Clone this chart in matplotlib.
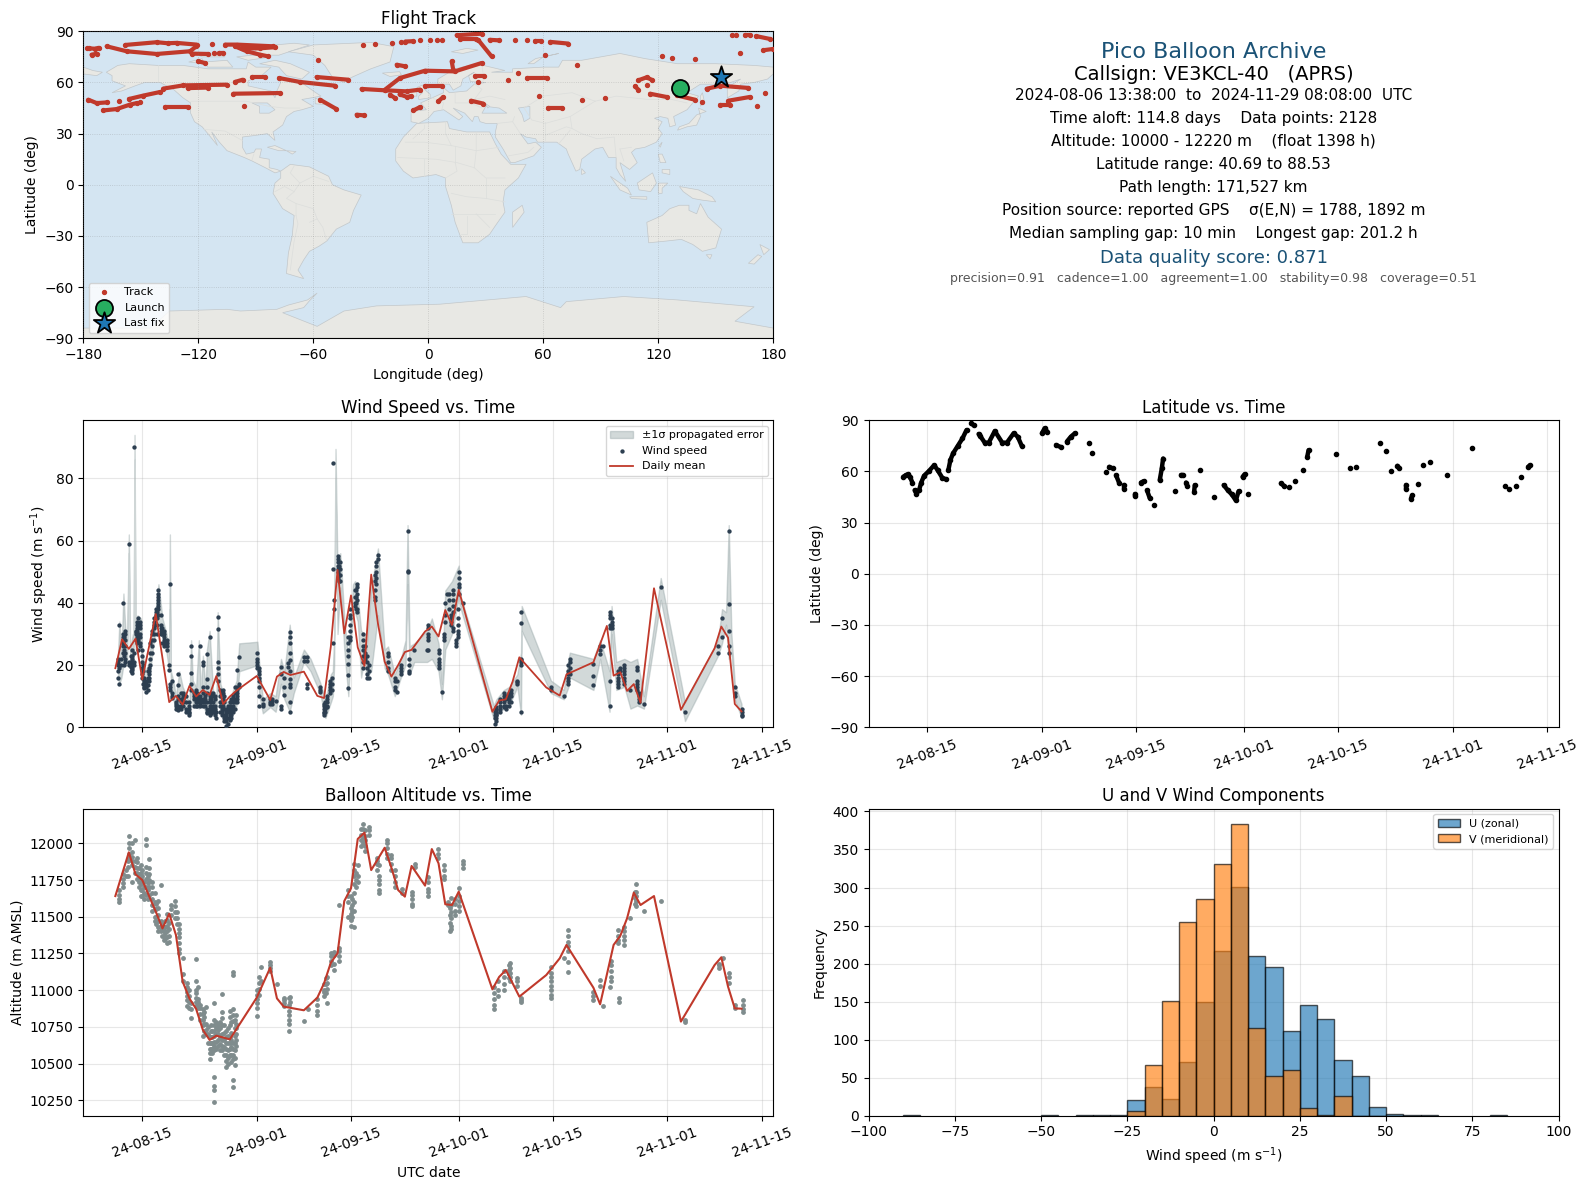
import datetime
import matplotlib
matplotlib.use('Agg')
import matplotlib.pyplot as plt
import matplotlib.dates as mdates
from matplotlib.patches import Polygon

# days are counted so that 15 = Aug 15, 32 = Sep 1, 62 = Oct 1, 93 = Nov 1
DAY_ZERO = mdates.date2num(datetime.datetime(2024, 7, 31))

date_ticks = [15, 32, 46, 62, 76, 93, 107]
date_labels = ['24-08-15', '24-09-01', '24-09-15', '24-10-01', '24-10-15', '24-11-01', '24-11-15']

mean_wind_days = [11, 12, 13, 14, 15, 17, 19, 20, 21, 22, 23, 24, 25, 26, 27, 28, 29, 32, 34, 35, 36, 37, 39, 41, 42,
                  43, 44, 45, 46, 47, 48, 49, 50, 51, 52, 53, 54, 55, 57, 58, 59, 60, 61, 62, 67, 68, 69, 70, 71, 75,
                  77, 78, 82, 84, 85, 86, 87, 88, 89, 91, 95, 100, 101, 102, 103, 104]
mean_wind = [19, 28.3, 25.2, 28.5, 15.4, 36.4, 8.1, 10.1, 7.3, 13.3, 9.9, 12, 10.4, 16.5, 7.5, 9.9, 11.8, 16.5, 8.8,
             16.3, 17.8, 16.8, 17.9, 10.1, 9.4, 25.9, 50.6, 30.2, 42.4, 25.7, 19.7, 49.1, 33.4, 21.1, 16.3, 20, 24.2,
             24.9, 30.8, 32.4, 29.2, 37.7, 32.9, 44.2, 5, 8.6, 9, 14.7, 22.5, 12.8, 10.2, 17, 20.9, 32.6, 16.6, 17.7,
             11.7, 13.9, 7.9, 44.7, 5.6, 25.4, 32.4, 28.8, 7.5, 5.1]

mean_alt_days = [11, 13, 14, 15, 17, 18, 19, 20, 21, 22, 23, 24, 25, 26, 28, 32, 34, 35, 36, 39, 41, 42, 43, 44, 45,
                 46, 47, 48, 49, 51, 52, 53, 54, 55, 57, 58, 59, 60, 61, 62, 67, 68, 69, 70, 71, 75, 77, 78, 82, 83,
                 85, 86, 87, 88, 89, 91, 95, 100, 101, 102, 103, 104]
mean_alt = [11641, 11939, 11789, 11750, 11535, 11421, 11521, 11376, 11058, 10944, 10872, 10729, 10661, 10690, 10665,
            10949, 11153, 10944, 10888, 10863, 10949, 11047, 11187, 11251, 11607, 11694, 12030, 12073, 11818, 11970,
            11834, 11682, 11637, 11846, 11712, 11961, 11864, 11585, 11580, 11671, 11006, 11090, 11137, 11047, 10956,
            11103, 11217, 11308, 11017, 10904, 11308, 11371, 11489, 11664, 11580, 11641, 10786, 11171, 11224, 11024,
            10876, 10874]

# (day, speeds read at that day)
wind_columns = [
    (11.45, [15.7, 18, 20, 21, 22]), (11.6, [33, 14, 19]), (11.9, [20, 22]), (12.2, [24, 26, 28, 29, 30, 27, 40]),
    (12.35, [20, 23, 25, 29]), (12.5, [21, 22, 24, 26, 28, 30, 31]), (13.0, [59, 21, 20]), (13.3, [18, 19.5, 21, 23]),
    (13.5, [17.5, 18.5, 19, 20, 21, 22, 23, 25]), (13.8, [90.2, 24, 21, 20]), (14.0, [28, 30, 30.5, 31]),
    (14.2, [27, 29, 31, 32, 33, 34]), (14.4, [25, 28, 30, 33, 35]), (14.6, [34, 33, 32, 30, 29, 27, 26]),
    (14.9, [21, 23, 25, 19, 17, 16]), (15.1, [14, 16, 18, 20]), (15.3, [12.5, 13, 14, 15, 16]),
    (15.6, [11.5, 13, 14, 15]), (15.8, [12, 13.5, 16, 18]), (16, [15, 16, 17, 18, 19]), (16.2, [20, 22, 24, 27]),
    (16.4, [24, 26, 28, 30, 31]), (16.7, [28, 30, 32, 33, 34, 35]), (17, [36, 37, 38]), (17.2, [30, 33, 35, 37]),
    (17.4, [36, 38, 39, 40, 41, 42, 43, 44]), (17.8, [32, 33, 30, 31, 36]), (18, [27, 30, 32]),
    (18.2, [26, 27, 28, 29, 30, 31]), (18.6, [25, 26, 27, 28]), (19, [20, 18.5]), (19.1, [46, 14, 13, 12]),
    (19.4, [11, 10, 9.5, 15]), (20, [7, 6, 7.5, 8]), (20.3, [5.5, 6, 7, 9, 10, 13.5, 17]), (20.7, [6, 7, 8, 9, 11]),
    (21, [7, 8, 9, 10, 11]), (21.5, [5, 6, 8, 10]), (22, [4, 4.5, 5, 6, 7, 8]), (22.3, [26, 23, 17.5, 14, 12]),
    (22.7, [7, 9, 10, 11]), (23, [7, 8, 9, 10, 11, 12]), (23.2, [7, 8, 9, 10, 11]), (23.5, [26, 7, 7.5, 8, 9, 10]),
    (24, [21, 20, 7, 8, 9, 11, 13]), (24.3, [7, 8, 9, 10]), (24.6, [23.5, 15.5, 13, 11, 8, 6, 5, 4.5]),
    (25, [29, 4, 5, 6, 7, 8, 9, 10]), (25.2, [4.5, 6, 8, 9, 11]), (25.5, [5, 6, 7, 8, 10, 11]),
    (25.8, [4, 5, 6, 7, 9, 10]), (26, [3, 5]), (26.2, [35.5, 31.5, 21, 19, 17, 15]), (26.5, [5, 7, 8, 10, 12]),
    (26.8, [4, 5, 6, 8, 11]), (27, [6, 7, 8, 9, 11, 12]), (27.2, [2, 3, 4, 6, 8, 10]), (27.5, [0.5, 2, 3, 4, 5, 6]),
    (27.8, [1, 3, 5, 6, 7]), (28, [2.5, 4, 5, 6, 7, 8]), (28.2, [3, 4, 5, 7, 9]), (28.5, [5, 6, 7, 8, 9, 10]),
    (28.8, [6, 8, 9, 11, 13]), (29, [8, 9, 10, 11, 12, 13, 18.5]),
    (29.4, [22.5, 13, 14]), (32, [19, 20, 21, 22, 24]), (32.3, [15, 16, 17, 18, 19, 13, 10, 7]), (33, [7, 7.5, 9]),
    (34, [8, 9, 7.5]), (34.2, [7.5, 8.5, 9]), (34.8, [8.5]), (35.6, [19.5, 17, 7, 6]), (36.1, [16, 13, 10.5]),
    (36.6, [20.7, 19.5]), (36.9, [30.5, 29, 27, 24, 21.5, 18, 15.5, 14, 13, 5, 8]), (39, [22.6, 21.4]),
    (39.5, [22.7, 21.4, 13.9, 12.6]), (41.4, [13, 12, 11.5]), (42, [7.5, 7, 6, 5, 4.5, 4]), (42.2, [5, 6, 7, 8]),
    (42.4, [9, 10, 8, 7, 6.5]), (42.9, [14, 15, 13, 12, 11]), (43.2, [16, 14, 12]), (43.4, [27, 51, 85]),
    (43.5, [38, 41]), (44.1, [55, 54, 53, 51, 48, 52, 50]), (44.2, [47, 49, 52]), (44.4, [47, 49, 51, 53]),
    (45.6, [29, 27, 25, 23, 20.5, 16.7, 12.6]), (45.8, [33, 31, 29, 28]), (45.9, [35, 36, 38]),
    (46.6, [44, 42, 40, 39]), (46.8, [38, 40, 42, 44]), (46.9, [46, 45, 43, 41, 38, 37]),
    (47.8, [30, 28, 26, 25, 23, 21, 19]),
    (48.1, [26, 24, 22]), (48.4, [23, 21, 19, 17, 16]), (48.6, [20, 18, 16]), (49.6, [49, 47, 44, 42, 41]),
    (49.7, [53, 52, 50, 48, 46]), (50, [55.5, 54]), (51.5, [24, 23, 21, 19, 18]), (52.5, [16, 15, 13, 12]),
    (52.8, [11.5, 15]), (53.4, [20, 19, 18, 17]), (54.4, [63, 50, 50.3]), (54.6, [22, 20, 18, 17.5]), (55.4, [25]),
    (57.3, [25]), (57.4, [33, 32, 30, 29, 28, 25]), (59, [25, 24, 22, 21, 20, 19]), (59.5, [11.5]),
    (59.8, [28, 29, 30]), (59.9, [34, 36, 40]), (60.2, [43]), (60.5, [38, 41, 43]), (60.8, [36, 35, 34, 33]),
    (61.1, [44, 43, 41, 39, 37, 32, 31]), (61.65, [26, 27, 28]), (61.85, [38, 35, 33, 31, 30, 29]),
    (62, [50, 48, 46, 45, 43]), (62.6, [40]), (67.4, [1, 3, 4, 5]), (67.5, [2, 3, 4, 5, 6]), (67.6, [4, 4.5, 5.5, 6.5]),
    (68.2, [5, 6, 7, 8, 9]), (68.7, [6.5, 7, 8, 9, 10, 11]), (69, [6, 7, 9, 10]), (69.5, [7, 8, 9, 10, 11]),
    (69.8, [8, 10, 11, 12]), (70.7, [14, 14.5, 15]),
    (71.3, [22, 21.5, 21, 20, 37, 33.5, 5]), (75.7, [12, 13]), (77.6, [10]), (78.2, [14, 15, 16, 17, 18, 20]),
    (78.5, [17, 19, 21, 22]), (82, [20.5, 16.5, 13.5]), (83, [23.5, 25, 26]), (83.5, [26]),
    (84.4, [6.8, 15, 37, 36, 35, 33, 32]), (84.7, [35, 34, 33, 32]), (85.6, [13, 14, 15, 16, 17, 18]),
    (85.9, [18, 19]), (86.6, [14, 15, 16, 17, 18, 19, 20]), (87.5, [12]), (88.5, [19.5, 18.5, 15, 14, 13, 12]),
    (88.7, [11, 10, 9, 8]), (89.5, [7.5]), (92, [45]), (95.6, [5]), (100.5, [26, 24]), (101.1, [35, 29]),
    (102.1, [63, 39.5, 31, 26, 24]), (103, [12.8, 11, 10]), (104, [6, 5, 4, 3.5]),
]

band_days = [11.4, 11.6, 11.9, 12.2, 12.5, 12.75, 13.0, 13.2, 13.6, 13.72, 13.85, 14.0, 14.3, 14.8, 15, 15.5, 16, 16.5,
             17, 17.4, 18, 18.6, 19.0, 19.1, 19.25, 19.6, 20, 20.5, 21, 22, 22.25, 22.5, 23, 23.4, 23.7, 24, 24.4,
             24.6, 25, 25.5, 26, 26.2, 26.6, 27.4, 28, 29, 29.4, 32.1, 32.4, 32.9, 34, 34.8, 35.6, 36.1, 36.9, 37.5,
             39, 40, 41.4, 42.2, 43, 43.3, 43.5, 43.7, 44, 44.4, 44.6, 45, 45.6, 46, 46.3, 46.6, 47, 47.5, 48, 48.3,
             49, 50, 51, 51.5, 52.5, 53.4, 54.1, 54.4, 54.7, 55.4, 57.3, 58, 59, 59.5, 60, 61, 62, 62.3, 67.2, 67.6,
             68.7, 69.5, 70.7, 71.25, 71.35, 75.7, 77.6, 78.3, 78.5, 82, 83, 84.4, 84.7, 85.4, 86.6, 87.5, 88.5,
             89.5, 92, 95.6, 100.5, 101.1, 101.7, 102.1, 102.5, 103, 104]
band_low = [16, 14, 16, 20, 20, 20, 56, 18, 18, 20, 86, 25, 27, 25, 14, 12, 14, 24, 32, 34, 29, 24, 18, 38, 12, 9, 6, 6,
            7, 3.5, 12, 7, 8, 6, 7, 7, 5, 6, 4, 4, 3, 15, 7, 1, 2, 7, 18, 20, 10, 4.5, 6.5, 5, 14, 9, 5, 11, 21, 18,
            11, 3, 8, 10, 20, 80, 30, 45, 40, 25, 10, 28, 36, 37, 34, 16, 22, 16, 18, 36, 19, 17, 10, 16, 20, 46, 17,
            21, 21, 22, 18, 9, 25, 30, 42, 38, 2.5, 4, 6, 7, 13, 4, 31, 11, 9, 13, 16, 12, 22, 5, 30, 12, 13, 6, 7,
            6, 41, 2, 23, 27, 33, 22, 24, 9, 3]
band_high = [24, 34, 24, 43, 31, 28, 62, 25, 30, 30, 94, 33, 36, 35, 24, 18, 21, 33, 38, 46, 35, 30, 24, 62, 18, 15, 10,
             18, 13, 8, 28, 15, 13, 28, 11, 23, 12, 25, 31, 12, 8, 37, 14, 8, 9, 15, 27, 27.5, 20, 9, 11, 10, 22, 18,
             33, 16, 25, 22, 14.5, 9, 17, 18, 30, 89.5, 50, 56, 50, 35, 22, 36, 46, 47, 42, 31, 30, 25, 45, 57.5, 25,
             26, 17, 22, 28, 65, 26, 27, 31, 35, 27, 14, 44, 47, 52, 42, 7, 9, 12, 13, 17, 24, 39, 15, 12, 22, 24, 22,
             28, 18, 39, 21, 22, 21, 22, 10, 48, 8, 28, 38, 37, 65, 30, 14, 7.5]

alt_columns = [
    (11.6, [11600, 11620, 11650, 11680]), (12.2, [11700, 11730, 11760, 11790]), (12.6, [11780, 11820]),
    (12.9, [11780, 11840, 11880]), (13.0, [11900, 11930, 11970, 12000, 12050]),
    (13.4, [11850, 11880, 11910, 11940, 12000, 11734]), (13.9, [12020, 11800, 11840, 11880]),
    (14.2, [11760, 11800, 11830, 11870, 11900]), (14.5, [11700, 11740, 11790, 11830]),
    (14.8, [11640, 11680, 11720, 11760, 11800, 11850]), (15, [11640, 11680, 11740, 11780, 11820]),
    (15.3, [11620, 11660, 11700, 11740]), (15.6, [12030, 11990, 11840, 11800, 11760, 11700, 11650]),
    (15.9, [11620, 11680, 11730, 11780]), (16, [11890, 11830, 11790, 11750, 11700, 11650]),
    (16.5, [11740, 11700, 11660, 11620, 11580, 11540]), (16.9, [11660, 11600, 11550, 11500, 11470]),
    (17.1, [11450, 11500, 11550, 11590]), (17.4, [11610, 11560, 11510, 11470, 11430, 11400]),
    (17.8, [11716, 11470, 11440, 11400]), (18, [11370, 11420, 11460]),
    (18.2, [11430, 11400, 11370, 11340]), (18.4, [11350, 11390, 11430, 11470]),
    (18.7, [11520, 11480, 11440, 11400, 11360, 11320]), (19, [11330, 11370, 11420, 11460]),
    (19.3, [11510, 11550, 11580]), (19.8, [11610, 11570, 11530, 11490]), (20.1, [11450, 11490, 11530]),
    (20.4, [11450, 11420, 11390, 11360, 11320, 11280, 11250]), (21, [11220, 11110, 11060]),
    (21.6, [11050, 11020, 10990, 10960, 10930, 10890]), (22, [10880, 10920, 10960, 11000]),
    (22.3, [10810, 10870, 10910]), (23, [10890, 10920, 10950, 10980, 11060, 11000, 11210]),
    (23.3, [10880, 10900, 10920, 10940, 11020]), (23.6, [10800, 10840, 10880, 10900]),
    (24, [10760, 10800, 10840, 10870, 10690]), (24.2, [10720, 10770, 10820, 10850]),
    (24.4, [10770, 10730, 10700, 10883]), (24.8, [10640, 10700, 10750]),
    (25, [10680, 10640, 10600, 10570, 10530]), (25.2, [10600, 10640, 10680, 10720, 10760]),
    (25.4, [10720, 10680, 10640, 10600, 10570]),
    (25.7, [10800, 10760, 10720, 10690, 10650, 10620, 10590, 10910, 10410, 10350, 10320, 10240]),
    (25.9, [10600, 10650, 10700, 10740, 10780]), (26.3, [10760, 10730, 10700, 10660, 10620]),
    (26.6, [10590, 10630, 10680, 10740, 10780]), (26.9, [10972, 10850, 10810, 10760, 10700, 10660, 10620, 10590]),
    (27.1, [10560, 10610, 10660, 10710, 10760]), (27.4, [10720, 10680, 10640, 10600, 10560, 10520, 10480]),
    (27.7, [10500, 10540, 10590, 10640, 10690, 10740]), (28, [10860, 10820, 10760, 10680, 10640, 10600, 10560]),
    (28.2, [10510, 10560, 10610, 10660, 10710, 10780]),
    (28.4, [10870, 10830, 10790, 10640, 10600, 10560, 10530, 10390, 10340, 11126, 11101]),
    (28.7, [10490, 10540, 10590, 10640, 10690, 10740, 10800]),
    (28.9, [10830, 10770, 10740, 10700, 10660, 10620]), (32.0, [10880, 10910, 10940, 10970, 11000, 10824]),
    (32.4, [10970, 11010, 11050, 11090]), (32.7, [11160, 11060]), (34, [11130, 11150, 11170, 11190]), (35, [11040]),
    (36, [10890, 10910, 10930, 10950]), (36.8, [10860, 10830, 10800, 10770, 10720, 10900, 10950]),
    (37, [10955, 10920]), (39, [10790]), (39.6, [10870]), (41, [10830, 10860, 10900, 10940]),
    (42, [10960, 11000, 11040, 10990]), (42.3, [10980, 11040, 11080]), (42.5, [10910, 11010, 11050, 11090]),
    (43, [11170, 11200, 11230, 11250]), (43.5, [11140, 11180, 11240, 11260]),
    (44.2, [11230, 11200, 11270, 11290, 11580]), (45.5, [11500, 11600, 11640, 11680]),
    (46, [11440, 11480, 11520, 11560, 11640]), (46.2, [11500, 11540, 11580, 11620]),
    (46.5, [11430, 11540, 11600, 11660, 11720, 11780, 11820, 11860]), (46.7, [11700, 11750, 11800]),
    (47, [11740, 11780, 11850]), (47.5, [11980, 12020, 12060, 12100]),
    (47.8, [12000, 12030, 12060, 12100, 12130]), (48.1, [11950, 11980, 12020, 12050, 12090]),
    (48.7, [12060, 12090, 12110]), (49.8, [11860, 11880, 11900, 11820]),
    (50.2, [11660, 11680, 11720, 11750, 11780, 11850]), (51.4, [11900, 11930, 11970, 12020, 12000]),
    (52, [11820, 11860, 11900, 11920]), (52.5, [11700, 11740, 11780, 11820]), (53.5, [11660, 11690]),
    (55, [11570, 11590, 11620, 11650, 11670]), (55.5, [11840, 11860]), (57.4, [11640, 11670, 11690, 11740, 11773]),
    (58.9, [11900, 11930, 11960]), (59.8, [11760, 11780, 11820, 11850]), (60.4, [11580, 11600]),
    (60.7, [11400, 11460, 11510, 11560]), (60.9, [11414, 11440, 11490, 11530, 11580, 11630]),
    (61.5, [11510, 11540, 11590, 11620]), (62, [11540, 11570, 11610, 11640, 11694]), (62.6, [11830, 11860, 11880]),
    (67.3, [10870, 10900, 10940, 10980, 11020]), (67.8, [10960, 11000, 11060]),
    (68.7, [11000, 11040, 11090, 11130]), (69.4, [11080, 11110, 11140, 11170]),
    (69.6, [11060, 11090, 11120, 11150, 11183]), (70.7, [11030, 11060, 11080]),
    (71.2, [10920, 10950, 10935]), (75.7, [10950, 10970, 11000, 11030, 11060, 11090, 11120, 11160]), (77.6, [11217]),
    (78.2, [11122, 11190, 11270, 11300, 11330, 11370, 11410]), (82, [10960, 10990, 10930]), (83, [11030, 11070]),
    (83.5, [10890]), (84.4, [11019]), (84.6, [11060, 11090, 11130, 11170, 11200]), (85.8, [10920, 10950]),
    (85.6, [11320, 11340, 11370, 11410]), (86.5, [11310, 11340, 11370, 11400, 11430]), (87.5, [11489]),
    (88.2, [11590, 11630, 11670]), (88.4, [11570, 11610, 11640, 11670, 11721]), (89.5, [11540]), (92, [11610]),
    (95.6, [10780, 10800]), (100.6, [11150, 11170, 11180]), (101.3, [11220]), (102.1, [11051, 11090, 11115]),
    (103, [10880, 10900]), (104.2, [10850, 10870, 10900, 10931]),
]

# latitude runs: (days, latitudes) of stretches without a gap
lat_runs = [
    ([11.42, 11.75, 12.15, 12.4, 12.75], [56.9, 57.8, 58.4, 56.9, 53.5]),
    ([13.1, 13.35, 13.75, 14.07, 14.5, 15.2, 16, 16.5, 17.2, 17.7], [49, 47, 49, 53.5, 57.5, 60.2, 63.7, 60.8, 56.3, 55.5]),
    ([18.1, 18.4, 18.8, 19.5, 20.2, 20.8], [60.8, 66.7, 70.6, 75, 79.4, 84.3]),
    ([21.5, 21.9], [88.2, 87]),
    ([22.6, 22.8, 23.5, 24.1, 25, 26.1, 26.8, 27.8, 28.4, 29], [82, 81, 76.9, 76.9, 83.7, 76.9, 76.9, 82.4, 80.4, 75]),
    ([32, 32.4, 32.8], [82.4, 85.3, 83.3]), ([34.1, 34.9], [75.5, 74.1]), ([35.7, 36.3, 36.9], [77.5, 80.4, 82.4]),
    ([39], [76.5]), ([39.5], [70.6]), ([41.5], [59.4]), ([42, 42.5], [62.7, 61.8]),
    ([43, 43.5], [57.8, 53]), ([44.2, 44.2], [50, 52]), ([45.8, 45.8], [45.7, 47]), ([46.7, 47.1], [53.5, 54.3]),
    ([47.6, 48], [49, 44.5]), ([48.6], [40.6]), ([49.5, 49.8, 50], [55, 61.8, 67.6]), ([51.7], [48.5]),
    ([52.6, 53], [57.8, 57.8]), ([53.4, 53.6], [53.5, 51.4]), ([54.6, 54.7], [48, 52]), ([55.5], [60.6]),
    ([57.6], [45]), ([59, 59.6, 60.2, 60.8, 61.2], [52, 49, 46.5, 43, 48.4]), ([61.8, 62.1], [56.9, 58.4]),
    ([62.6], [46.5]), ([67.5, 68], [53, 51.4]), ([68.7], [50.6]), ([69.6], [54.3]), ([70.8], [60.8]),
    ([71.4, 71.6], [68.6, 72.5]), ([75.7], [70.2]), ([77.8], [61.8]), ([78.6], [62.7]), ([82.2], [76.5]),
    ([83.1], [72.2]), ([83.9], [60]), ([84.8, 85.1], [63.3, 61.8]), ([86, 86], [52, 50]),
    ([86.8, 87], [44.1, 46]), ([87.8], [52.4]), ([88.6], [63.7]), ([89.7], [65.7]), ([92.1], [58.2]), ([95.8], [73.5]),
    ([100.7], [51.6]), ([101.4], [50]), ([102.4], [51.6]), ([103.2], [56.5]), ([104.2, 104.5], [62.7, 63.7]),
]

# U/V histogram, 5 m/s bins starting at these left edges
hist_edges = [-90, -50, -40, -35, -30, -25, -20, -15, -10, -5, 0, 5, 10, 15, 20, 25, 30, 35, 40, 45, 50, 55, 60, 80]
u_counts = [1, 1, 1, 1, 1, 20, 38, 22, 70, 150, 216, 301, 210, 195, 111, 146, 127, 73, 52, 12, 2, 1, 1, 1]
v_counts = [0, 0, 0, 0, 0, 6, 67, 151, 254, 285, 331, 384, 115, 52, 60, 10, 1, 26, 0, 0, 0, 0, 0, 0]

# ground track on the map, (lon, lat) runs
track_runs = [
    [(-177, 80), (-174, 79.8), (-172, 80.3)], [(-175.7, 76.3), (-173, 76.8)],
    [(-158, 82), (-141.7, 83.6), (-136, 83), (-131.3, 83.2), (-120.9, 82.2)],
    [(-167.8, 81.2), (-157.4, 78.3), (-141.7, 76.7), (-124.3, 78.3), (-121, 81.2)],
    [(-123.5, 76.9), (-114.8, 76.7)], [(-112, 77.3)], [(-109, 77.3), (-107, 77.3)],
    [(-106, 82.2), (-100, 82.2), (-80.9, 81.2)], [(-100.9, 81.2), (-94.8, 78.3), (-87.8, 76.3), (-83.5, 75.3)],
    [(-97, 80), (-88, 80), (-80, 80.7)], [(-113, 82.8)], [(-120, 72.4), (-116.5, 71.4)],
    [(-177.4, 49.9), (-173, 47.9), (-167.8, 48.3)], [(-161.2, 49.3)],
    [(-169.6, 43.6), (-162.6, 44.4), (-155.7, 47), (-152.2, 47.9)], [(-150.4, 48.5)],
    [(-156.2, 50.3), (-148.7, 52.3), (-140, 54.4)], [(-138.3, 56.4), (-127.8, 58.3), (-105.2, 58.7)],
    [(-125.5, 56.7), (-115, 57)], [(-137.4, 45.6), (-125.2, 45.6)], [(-100.9, 60.3), (-96.9, 61.6)],
    [(-92.2, 63.2), (-85.2, 63.2)], [(-101.7, 53.4), (-77.4, 53.8)], [(-96, 46.4)],
    [(-77.9, 62.6), (-67, 60.3), (-48.7, 58.1)], [(-58.3, 63.2), (-41.7, 61.6)], [(-57.4, 73.4)],
    [(-56.5, 49.9), (-48.2, 44.6)], [(-37.4, 41.1), (-33.6, 40.7)], [(-34, 82)], [(-28, 82.5)], [(-19, 83.2)],
    [(-14, 84)], [(-12, 84), (-8, 84.2)], [(-4.3, 85)], [(1, 85)], [(4.5, 85)], [(7, 85)],
    [(-34.8, 56.2), (-22.6, 55.4), (-11.3, 54.8), (-4.3, 55.8)],
    [(-22.6, 55.8), (-14.8, 62.6), (-1.7, 66.9), (13.9, 66.5), (27.8, 71.4)], [(-16.5, 70.4), (-12.2, 69.5)],
    [(-20, 52.8), (-17.4, 50.9)], [(-15, 53), (-11, 51.5), (-9, 52)], [(-7.8, 43.6), (-4.3, 45.6)],
    [(5.2, 48.9), (7.8, 51.5)], [(-1.7, 57.7), (7, 57.7)], [(14.8, 87.7), (27.8, 88.6)], [(16.5, 85.5), (25, 85.5)],
    [(26, 85), (33, 75.3)], [(32, 85), (37, 84.7)], [(45, 85)], [(51.7, 85)], [(55.6, 84.2), (59, 84.2)],
    [(63.5, 83.8), (73, 82.8)], [(12.2, 72.4), (13, 67.5)], [(22.3, 49.3), (28.7, 47.6)], [(24.3, 63.6), (29, 63.6)],
    [(26, 60.3)], [(46.6, 65.6)], [(41.7, 61.4)], [(61, 76.3)], [(77.4, 70.5)], [(51.7, 62.6), (62, 62.6)],
    [(57.9, 51.9)], [(62.6, 45), (69.6, 45)], [(80, 49.7)], [(92.3, 50.9)],
    [(109.6, 61.3), (113.9, 63), (116.5, 61.6)], [(114.3, 58.7)], [(107.8, 57.7), (109.6, 55.8)],
    [(115.7, 53.4), (124.3, 51.5)], [(129.6, 52.4), (139.1, 49.9)], [(121.7, 75.3)], [(127, 74.4)], [(139.3, 73.8)],
    [(142.6, 48.5)], [(145.2, 56.3), (152.2, 58.1), (167, 56.8)], [(156.5, 49.3), (167.8, 51.5)],
    [(152.2, 46.6), (157.4, 46.6)], [(171.7, 46.4)], [(175.7, 53.8)],
    [(158.3, 88)], [(160.5, 87.7)], [(165, 88), (168, 88)], [(171, 87.2), (178.3, 85.5)], [(162.6, 77.3)],
    [(174.8, 78.9), (179.6, 79.6)], [(-178, 80)],
]
launch_lon, launch_lat = 131.5, 56.8
last_lon, last_lat = 152.7, 63.2

# rough coastlines, (lon, lat)
land_polys = [
    [(-168, 66), (-162, 70), (-156, 71), (-141, 70), (-128, 70), (-115, 68), (-108, 68), (-95, 68), (-94, 72), (-90, 69),
     (-82, 69), (-87, 64), (-94, 61), (-94, 58), (-88, 56.5), (-82, 55), (-80, 51), (-79, 55), (-77, 60), (-78, 62),
     (-70, 61), (-65, 59), (-60, 55), (-56, 52), (-66, 50), (-60, 46), (-66, 44), (-70, 43), (-74, 40), (-76, 35),
     (-81, 31), (-80, 26), (-82, 28), (-84, 30), (-90, 29), (-97, 28), (-97, 22), (-95, 18), (-91, 19), (-90, 21),
     (-87, 21), (-88, 16), (-83, 15), (-83, 10), (-79, 9), (-77, 8), (-80, 7), (-85, 10), (-92, 14), (-96, 16),
     (-105, 20), (-109, 25), (-113, 31), (-110, 23), (-115, 30), (-118, 34), (-122, 37), (-124, 42), (-124, 48),
     (-128, 51), (-133, 56), (-140, 60), (-148, 60), (-153, 58), (-160, 55), (-165, 54), (-158, 58), (-165, 61),
     (-165, 64)],
    [(-80, 73), (-72, 71), (-62, 66), (-66, 62), (-74, 64), (-78, 69), (-88, 71)],
    [(-117, 72), (-105, 73), (-102, 69), (-115, 69)],
    [(-90, 76), (-78, 76), (-62, 82), (-70, 83), (-90, 81)],
    [(-125, 72), (-118, 74), (-117, 71)],
    [(-100, 75), (-92, 76), (-82, 75), (-94, 73)],
    [(-120, 76), (-108, 76), (-106, 75), (-118, 75)],
    [(-59, 51), (-53, 47), (-59, 47.5)],
    [(-73, 78), (-60, 82), (-30, 83.5), (-18, 81), (-20, 72), (-30, 68), (-42, 62), (-44, 60), (-50, 63), (-54, 70), (-60, 76)],
    [(-24, 65.5), (-15, 66.3), (-14, 64.5), (-20, 63.5)],
    [(-77, 8), (-72, 12), (-62, 10.5), (-52, 5), (-50, 0), (-44, -3), (-35, -6), (-39, -15), (-41, -22), (-48, -26),
     (-53, -33), (-57, -36), (-62, -39), (-65, -44), (-68, -50), (-65, -55), (-74, -52), (-73, -40), (-71, -30),
     (-70, -18), (-76, -14), (-81, -5), (-80, 1), (-77, 4)],
    [(-6, 36), (10, 37), (11, 33), (20, 31), (32, 31), (35, 24), (38, 18), (43, 12), (51, 12), (47, 4), (40, -3), (39, -10),
     (40, -16), (35, -24), (32, -29), (26, -34), (18, -34), (14, -22), (12, -12), (9, -1), (9, 4), (4, 6), (-8, 4),
     (-13, 8), (-17, 14), (-17, 21), (-13, 28)],
    [(-9, 37), (-9, 43), (-1, 44), (-4, 48), (2, 51), (8, 54), (8, 57), (11, 54), (20, 55), (24, 59), (30, 60), (22, 60.5),
     (21, 64), (24, 66), (18, 62), (17, 58), (13, 55.5), (11, 59), (5, 59), (5, 62), (14, 68), (25, 71), (40, 67), (33, 66),
     (44, 66), (44, 68), (60, 69), (68, 69), (70, 73), (80, 73), (100, 77), (113, 74), (130, 71), (150, 71), (170, 70),
     (180, 69), (180, 65), (177, 62), (170, 60), (163, 59), (162, 55), (156, 51), (156, 57), (163, 62), (155, 59), (142, 59),
     (135, 54), (141, 52), (135, 44), (128, 40), (129, 35), (126, 34), (125, 39), (121, 40), (118, 39), (122, 37), (120, 33),
     (122, 30), (119, 25), (113, 22), (108, 21), (106, 19), (109, 13), (105, 9), (100, 13), (103, 2), (100, 6), (98, 10),
     (98, 16), (94, 16), (91, 22), (87, 21), (80, 15), (79, 9), (77, 8), (73, 18), (72, 21), (67, 25), (57, 25), (56, 27),
     (51, 28), (48, 30), (52, 24), (56, 25), (59, 22), (55, 17), (45, 13), (43, 13), (39, 21), (35, 28), (35, 31), (36, 36),
     (30, 36), (27, 37), (26, 40), (24, 40), (23, 37), (19, 42), (13, 45), (18, 40), (16, 38), (8, 44), (3, 43), (0, 39),
     (-5, 36)],
    [(-180, 69), (-175, 67), (-170, 66), (-173, 64), (-180, 65)],
    [(-5, 50), (1, 51), (1, 53), (-2, 56), (-3, 58.5), (-6, 57), (-3, 54), (-5, 52)],
    [(-10, 52), (-6, 52), (-6, 55), (-10, 54)],
    [(130, 32), (135, 34), (140, 35), (142, 40), (141, 45), (145, 43), (140, 41), (136, 36), (131, 34)],
    [(142, 46), (144, 49), (143, 54), (142, 52)],
    [(44, -25), (50, -16), (49, -12), (44, -16)],
    [(95, 5), (104, -2), (106, -6), (100, -3)],
    [(105, -7), (114, -7), (114, -8.5), (106, -8)],
    [(109, 1), (117, 7), (119, 1), (116, -4), (110, -3)],
    [(120, 1), (125, 1), (122, -2), (122, -5), (120, -5)],
    [(131, -1), (141, -3), (148, -7), (150, -10), (143, -9), (138, -8), (133, -4)],
    [(120, 18), (122, 18), (124, 13), (121, 13)],
    [(122, 9), (126, 9), (126, 6), (122, 7)],
    [(114, -22), (122, -18), (126, -14), (131, -12), (136, -12), (136, -15), (140, -17), (142, -11), (146, -19), (153, -26),
     (150, -37), (143, -39), (138, -35), (132, -32), (124, -33), (115, -34)],
    [(145, -41), (148, -41), (147, -43.5)],
    [(173, -35), (178, -38), (175, -41)],
    [(167, -46), (172, -41), (174, -42), (170, -46.5)],
    [(52, 71), (56, 74), (68, 77), (60, 75), (55, 71)],
    [(12, 78), (20, 80), (26, 79), (18, 77)],
    [(-84, 22), (-80, 23), (-74, 20), (-78, 20)],
    [(-74, 20), (-69, 19.5), (-71, 18)],
    [(80, 9.5), (82, 7), (80, 6)],
    [(120.5, 23), (122, 25), (121, 22)],
    [(-180, -90), (-180, -84), (-145, -84), (-135, -74), (-105, -73), (-98, -74), (-79, -73), (-73, -70.5), (-63, -67.5),
     (-58, -63.5), (-62, -68), (-65, -72), (-76, -75), (-58, -83), (-44, -74), (-27, -71), (6, -70), (51, -65.5), (69, -72),
     (72, -68.5), (102, -65.5), (130, -67.5), (170, -71.5), (160, -80), (180, -84), (180, -90)],
]
water_polys = [
    [(28, 42), (30, 46), (37, 45), (41, 42), (35, 42)],
    [(47, 45), (53, 46), (53, 39), (50, 37), (49, 41)],
    [(30, 47.5), (32, 46), (31, 45)],
    [(-92, 48), (-84, 48), (-80, 44), (-83, 42), (-88, 42), (-88, 46)],
]
border_lines = [
    [(-141, 70), (-141, 60)], [(-124, 49), (-95, 49), (-83, 46), (-75, 45), (-67, 45)],
    [(-117, 32.5), (-106, 31.5), (-97, 26)], [(-92, 14.5), (-91, 18)],
    [(-70, 11), (-72, 7), (-67, 1), (-70, -4), (-74, -8), (-69, -11), (-69, -18)], [(-60, 8), (-60, 5), (-52, 2)],
    [(-67, 1), (-60, 5)], [(-69, -11), (-60, -14), (-58, -20), (-55, -25), (-53, -33)],
    [(-69, -18), (-68, -23), (-70, -33), (-72, -50)], [(-80, -4), (-75, -1), (-70, -4)], [(-62, -22), (-58, -20)],
    [(-12, 25), (-2, 25), (12, 23), (25, 20), (37, 22)], [(25, 31), (25, 20), (24, 10), (30, 4), (40, 4)],
    [(-8, 27), (-2, 33), (-2, 35)], [(9, 37), (9, 30), (12, 23)], [(14, 13), (14, 23)], [(-16, 16), (4, 15), (15, 13), (24, 10)],
    [(9, 4), (15, 8), (14, 13)], [(12, -5), (20, -7), (30, -8), (40, -10)], [(12, -17), (25, -17), (35, -17)],
    [(20, -18), (20, -29), (17, -29)], [(30, 4), (30, -8)], [(25, -17), (32, -25)], [(-2, 5), (-2, 15)],
    [(2, 51), (8, 48), (7, 44)], [(14, 54), (14, 48), (22, 48), (28, 45)], [(24, 59), (28, 56), (24, 50), (22, 48)],
    [(28, 70), (29, 62), (28, 60)], [(40, 50), (32, 52), (24, 50)], [(36, 36), (44, 37), (48, 30)], [(44, 37), (45, 40)],
    [(61, 37), (61, 26)], [(61, 36), (54, 38), (50, 45), (60, 52), (75, 54), (87, 49)], [(87, 49), (98, 52), (115, 50), (127, 50), (135, 48)],
    [(87, 49), (74, 40), (61, 36)], [(74, 40), (75, 33), (80, 30), (88, 27), (97, 28), (98, 16)], [(61, 29), (72, 34), (75, 33)],
    [(68, 24), (74, 32)], [(100, 21), (106, 22)], [(42, 17), (52, 19), (55, 22)], [(100, 21), (102, 14)],
]

NAVY = '#1a5276'
RED = '#c0392b'
MINUS_TICKS = ['−90', '−60', '−30', '0', '30', '60', '90']


def day_to_date(days):
    return [DAY_ZERO + d for d in days]


def flatten(columns):
    xs, ys = [], []
    for day, values in columns:
        for v in values:
            xs.append(DAY_ZERO + day)
            ys.append(v)
    return xs, ys


def place(left, top, right, bottom):
    # pixel box to figure fractions
    return fig.add_axes([left / 1587, 1 - bottom / 1189, (right - left) / 1587, (bottom - top) / 1189])


def time_axis(ax):
    ax.set_xlim(DAY_ZERO + 6.24, DAY_ZERO + 108.72)
    ax.set_xticks(day_to_date(date_ticks))
    ax.set_xticklabels(date_labels, rotation=20)
    ax.grid(alpha=0.3)


fig = plt.figure(figsize=(15.87, 11.89), dpi=100)

# flight track
ax = place(83.3, 31.3, 773.3, 338.3)
ax.set_facecolor('#d4e5f2')
for poly in land_polys:
    ax.add_patch(Polygon(poly, closed=True, facecolor='#e8e8e4', edgecolor='#c2c7ca', linewidth=0.5, zorder=1))
for poly in water_polys:
    ax.add_patch(Polygon(poly, closed=True, facecolor='#d4e5f2', edgecolor='#c2c7ca', linewidth=0.5, zorder=1.1))
for line in border_lines:
    ax.plot([p[0] for p in line], [p[1] for p in line], color='#dcdedc', lw=0.5, zorder=1.2)
ax.grid(color='gray', linestyle=':', linewidth=0.6, alpha=0.35, zorder=1.5)
ax.set_axisbelow(False)
track_lon, track_lat = [], []
for run in track_runs:
    ax.plot([p[0] for p in run], [p[1] for p in run], color=RED, lw=3, solid_capstyle='round', zorder=2)
    track_lon += [p[0] for p in run]
    track_lat += [p[1] for p in run]
ax.scatter(track_lon, track_lat, s=8, color=RED, zorder=3, label='Track')
ax.scatter([launch_lon], [launch_lat], s=150, color='#27ae60', edgecolor='black', linewidth=1.3, zorder=4, label='Launch')
ax.scatter([last_lon], [last_lat], s=260, marker='*', color='#1f77b4', edgecolor='black', linewidth=1.3, zorder=5, label='Last fix')
ax.set_xlim(-180, 180)
ax.set_ylim(-90, 90)
ax.set_xticks(range(-180, 181, 60))
ax.set_yticks(range(-90, 91, 30))
ax.set_xticklabels(['−180', '−120', '−60', '0', '60', '120', '180'])
ax.set_yticklabels(MINUS_TICKS)
ax.set_xlabel('Longitude (deg)')
ax.set_ylabel('Latitude (deg)')
ax.set_title('Flight Track', fontsize=12, pad=5.3)
ax.legend(loc='lower left', fontsize=8, framealpha=0.8)

# summary text
CX = 1213.5
info_lines = [
    ('Pico Balloon Archive', 52, 16, NAVY),
    ('Callsign: VE3KCL-40   (APRS)', 74.5, 14, 'black'),
    ('2024-08-06 13:38:00  to  2024-11-29 08:08:00  UTC', 95, 11, 'black'),
    ('Time aloft: 114.8 days    Data points: 2128', 118, 11, 'black'),
    ('Altitude: 10000 - 12220 m    (float 1398 h)', 141, 11, 'black'),
    ('Latitude range: 40.69 to 88.53', 164, 11, 'black'),
    ('Path length: 171,527 km', 187.5, 11, 'black'),
    ('Position source: reported GPS    σ(E,N) = 1788, 1892 m', 210, 11, 'black'),
    ('Median sampling gap: 10 min    Longest gap: 201.2 h', 233.5, 11, 'black'),
    ('Data quality score: 0.871', 258, 13, NAVY),
    ('precision=0.91   cadence=1.00   agreement=1.00   stability=0.98   coverage=0.51', 279, 9, '#555555'),
]
for text, y, size, color in info_lines:
    fig.text(CX / 1587, 1 - y / 1189, text, ha='center', va='center', fontsize=size, color=color)

# wind speed
ax = place(83.3, 420.3, 773.3, 727.3)
ax.fill_between(day_to_date(band_days), band_low, band_high, color='#95a5a6', alpha=0.42, linewidth=1,
                label='±1σ propagated error')
wx, wy = flatten(wind_columns)
ax.scatter(wx, wy, s=4.5, color='#2c3e50', label='Wind speed', zorder=3)
ax.plot(day_to_date(mean_wind_days), mean_wind, color=RED, lw=1.3, label='Daily mean', zorder=4)
time_axis(ax)
ax.set_ylim(0, 98.7)
ax.set_yticks([0, 20, 40, 60, 80])
ax.set_ylabel('Wind speed (m s$^{-1}$)')
ax.set_title('Wind Speed vs. Time', fontsize=12, pad=5.3)
ax.legend(loc='upper right', fontsize=8)

# latitude
ax = place(868.5, 420.3, 1558.5, 727.3)
lx, ly = [], []
for days, lats in lat_runs:
    ax.plot(day_to_date(days), lats, color='black', lw=3.2, solid_capstyle='round')
    lx += day_to_date(days)
    ly += lats
ax.scatter(lx, ly, s=9, color='black', zorder=3)
time_axis(ax)
ax.set_ylim(-90, 90)
ax.set_yticks(range(-90, 91, 30))
ax.set_yticklabels(MINUS_TICKS)
ax.set_ylabel('Latitude (deg)')
ax.set_title('Latitude vs. Time', fontsize=12, pad=5.3)

# altitude
ax = place(83.3, 808.7, 773.3, 1115.7)
ax_x, ax_y = flatten(alt_columns)
ax.scatter(ax_x, ax_y, s=6, color='#7f8c8d', zorder=3)
ax.plot(day_to_date(mean_alt_days), mean_alt, color=RED, lw=1.5, zorder=4)
time_axis(ax)
ax.set_ylim(10145, 12236)
ax.set_yticks(range(10250, 12001, 250))
ax.set_ylabel('Altitude (m AMSL)')
ax.set_xlabel('UTC date')
ax.set_title('Balloon Altitude vs. Time', fontsize=12, pad=5.3)

# U and V histogram
ax = place(868.5, 808.7, 1558.5, 1115.7)
ax.bar(hist_edges, u_counts, width=5, align='edge', color='#1f77b4', alpha=0.65, edgecolor='black', label='U (zonal)', zorder=2)
ax.bar(hist_edges, v_counts, width=5, align='edge', color='#ff7f0e', alpha=0.65, edgecolor='black', label='V (meridional)', zorder=3)
ax.set_xlim(-100, 100)
ax.set_ylim(0, 403.6)
ax.set_xticks(range(-100, 101, 25))
ax.set_yticks(range(0, 401, 50))
ax.grid(alpha=0.3)
ax.set_axisbelow(True)
ax.set_xlabel('Wind speed (m s$^{-1}$)')
ax.set_ylabel('Frequency')
ax.set_title('U and V Wind Components', fontsize=12, pad=5.3)
ax.legend(loc='upper right', fontsize=8)

fig.savefig('out.png', dpi=100)
